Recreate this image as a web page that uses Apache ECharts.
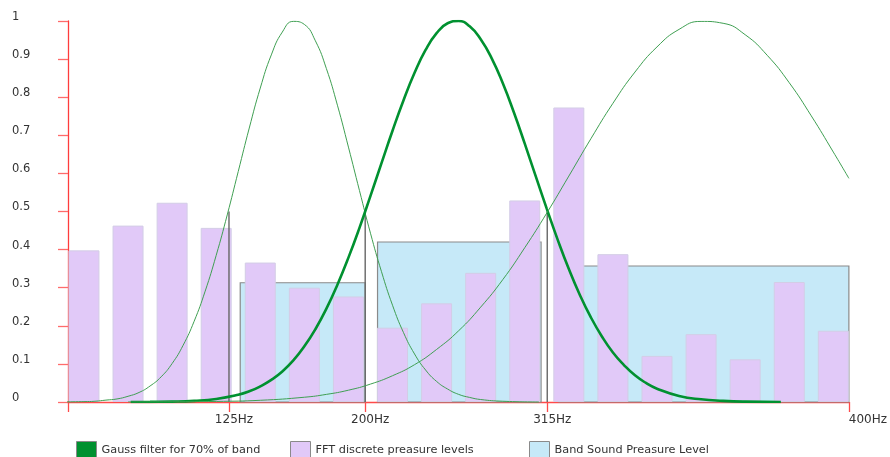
<!DOCTYPE html>
<html>
<head>
<meta charset="utf-8">
<title>Gauss band filter</title>
<script src="https://cdn.jsdelivr.net/npm/echarts@6/dist/echarts.min.js"></script>
<style>
    html, body { margin: 0; padding: 0; background: #fff; }
    #main { width: 890px; height: 457px; }
</style>
</head>
<body>
<div id="main"></div>
<script>
// x is counted in FFT bins (bar 0 .. bar 17)
const xMin = -0.362;
const xMax = 17.353;

// FFT discrete levels
const fftX = [0, 1, 2, 3, 4, 5, 6, 7, 8, 9, 10, 11, 12, 13, 14, 15, 16, 17];
const fftLevels = [0.398, 0.463, 0.523, 0.457, 0.366, 0.300, 0.277, 0.195, 0.259,
    0.339, 0.529, 0.773, 0.388, 0.121, 0.178, 0.112, 0.315, 0.187];

// x axis labels (band edges)
const tickPos = [3.29, 6.38, 10.51, 17.353];
const tickLabels = ['125Hz', '200Hz', '315Hz', '400Hz'];

// band sound pressure boxes
const bandStart = [3.545, 6.66, 10.77];
const bandEnd = [6.38, 10.37, 17.353];
const bandLevel = [0.313, 0.42, 0.357];

// vertical band border lines
const edgePos = [3.29, 6.38, 10.51];
const edgeTop = [0.5, 0.5, 0.5];

// gauss filters
const gaussAX = [-0.68, 0, 0.25, 0.5, 0.75, 1, 1.25, 1.5, 1.75, 2, 2.25, 2.5, 2.75, 3, 3.25, 3.5, 3.75, 4, 4.25, 4.5, 4.75,
    5, 5.25, 5.5, 5.75, 6, 6.25, 6.5, 6.75, 7, 7.25, 7.5, 7.75, 8, 8.25, 8.5, 8.75, 9, 9.5, 10.32];
const gaussAY = [0, 0.001, 0.002, 0.005, 0.008, 0.015, 0.025, 0.042, 0.066, 0.101, 0.149, 0.212, 0.291, 0.385, 0.491, 0.605, 0.719, 0.824, 0.911, 0.971, 0.999,
    0.991, 0.948, 0.875, 0.779, 0.669, 0.555, 0.443, 0.342, 0.254, 0.182, 0.126, 0.084, 0.054, 0.034, 0.020, 0.012, 0.0065, 0.002, 0];
const gaussBX = [1.06, 1.5, 2, 2.5, 3, 3.5, 3.75, 4, 4.25, 4.5, 4.75, 5, 5.25, 5.5, 5.75, 6, 6.25, 6.5, 6.75, 7, 7.25, 7.5, 7.75, 8, 8.25, 8.5,
    8.75, 9, 9.25, 9.5, 9.75, 10, 10.25, 10.5, 10.75, 11, 11.25, 11.5, 11.75, 12, 12.25, 12.5, 12.75, 13, 13.5, 14, 14.5, 15, 15.81];
const gaussBY = [0, 0.0004, 0.001, 0.003, 0.008, 0.019, 0.028, 0.041, 0.058, 0.080, 0.109, 0.146, 0.191, 0.245, 0.308, 0.379, 0.457, 0.541, 0.627, 0.712, 0.792, 0.864, 0.924, 0.968, 0.994, 1,
    0.986, 0.952, 0.902, 0.837, 0.761, 0.678, 0.592, 0.507, 0.425, 0.349, 0.281, 0.222, 0.172, 0.130, 0.097, 0.070, 0.050, 0.035, 0.016, 0.007, 0.003, 0.001, 0];
const gaussCX = [1, 2, 3, 4, 5, 5.5, 6, 6.5, 7, 7.5, 8, 8.5, 9, 9.5, 10, 10.5, 11, 11.5, 12, 12.5, 13, 13.5, 14, 14.5,
    15, 15.5, 16, 16.5, 17, 17.353];
const gaussCY = [0, 0.0004, 0.0015, 0.0045, 0.0125, 0.020, 0.031, 0.047, 0.069, 0.098, 0.138, 0.187, 0.249, 0.321, 0.405, 0.496, 0.593, 0.691, 0.784, 0.866, 0.932, 0.978, 0.999, 0.994,
    0.964, 0.910, 0.838, 0.751, 0.656, 0.587];

const gaussName = 'Gauss filter for 70% of band';
const fftName = 'FFT discrete preasure levels';
const bandName = 'Band Sound Preasure Level';

const pairs = (xs, ys) => xs.map((x, i) => [x, ys[i]]);

const legendBase = (name, left) => ({
    data: [name],
    left: left,
    top: 441,
    padding: 0,
    icon: 'rect',
    itemWidth: 20,
    itemHeight: 17,
    itemGap: 0,
    selectedMode: false,
    itemStyle: { borderColor: '#8a8a8a', borderWidth: 1 },
    textStyle: { fontSize: 11.3, color: '#333', fontFamily: 'DejaVu Sans' }
});

const gaussLine = (data, width, color, clip) => ({
    name: gaussName,
    type: 'line',
    data: data,
    smooth: true,
    symbol: 'none',
    clip: clip,
    z: 5,
    itemStyle: { color: '#009130' },
    lineStyle: { width: width, color: color }
});

const getOption = () => {
    return {
        animation: false,
        textStyle: { fontFamily: 'DejaVu Sans' },
        legend: [
            legendBase(gaussName, 76),
            legendBase(fftName, 290),
            legendBase(bandName, 529)
        ],
        grid: { left: 68, right: 39, top: 21, bottom: 55 },
        xAxis: {
            type: 'value',
            min: xMin,
            max: xMax,
            splitLine: { show: false },
            axisLine: { onZero: false, lineStyle: { color: '#ff4a4a', width: 1.3 } },
            axisTick: {
                customValues: [xMin].concat(tickPos),
                length: 10,
                lineStyle: { color: '#ff4a4a', width: 1.3 }
            },
            axisLabel: {
                customValues: tickPos,
                fontSize: 12,
                color: '#333',
                margin: 12,
                padding: [0, 0, 0, 10],
                formatter: (v) => {
                    const i = tickPos.indexOf(v);
                    if (i === tickPos.length - 1) return '{end|' + tickLabels[i] + '}';
                    return i >= 0 ? tickLabels[i] : '';
                },
                rich: { end: { padding: [0, 0, 0, 28], fontSize: 12, color: '#333' } }
            }
        },
        yAxis: {
            type: 'value',
            min: 0,
            max: 1,
            interval: 0.1,
            splitLine: { show: false },
            axisLine: { show: true, onZero: false, lineStyle: { color: '#ff3c3c', width: 1.3 } },
            axisTick: { show: true, length: 10, lineStyle: { color: '#ff6b6b', width: 1.3 } },
            axisLabel: {
                align: 'left',
                verticalAlign: 'bottom',
                lineHeight: 8,
                margin: 56,
                fontSize: 11.5,
                color: '#333'
            }
        },
        series: [
            // band boxes
            {
                name: bandName,
                type: 'custom',
                z: 1,
                itemStyle: { color: '#c6e9f8', borderColor: '#8a8a8a' },
                encode: { x: [0, 1], y: 2 },
                data: bandStart.map((s, i) => [s, bandEnd[i], bandLevel[i]]),
                renderItem: (params, api) => {
                    const p0 = api.coord([api.value(0), api.value(2)]);
                    const p1 = api.coord([api.value(1), 0]);
                    return {
                        type: 'rect',
                        shape: { x: p0[0], y: p0[1], width: p1[0] - p0[0], height: p1[1] - p0[1] },
                        style: { fill: '#c6e9f8', stroke: '#8a8a8a', lineWidth: 1.2 }
                    };
                }
            },
            // FFT bars
            {
                name: fftName,
                type: 'bar',
                z: 2,
                barWidth: 31,
                data: pairs(fftX, fftLevels),
                itemStyle: { color: '#e1c9f8', borderColor: '#d3cde6', borderWidth: 1 }
            },
            // band edges
            {
                name: 'edges',
                type: 'custom',
                z: 3,
                data: pairs(edgePos, edgeTop),
                renderItem: (params, api) => {
                    const a = api.coord([api.value(0), 0]);
                    const b = api.coord([api.value(0), api.value(1)]);
                    return {
                        type: 'line',
                        shape: { x1: a[0], y1: a[1], x2: b[0], y2: b[1] },
                        style: { stroke: '#666', lineWidth: 1.4 }
                    };
                }
            },
            gaussLine(pairs(gaussAX, gaussAY), 1, '#3f9f52', false),
            gaussLine(pairs(gaussBX, gaussBY), 2.6, '#009130', true),
            gaussLine(pairs(gaussCX, gaussCY), 1, '#3f9f52', true)
        ]
    };
};

const chartDom = document.getElementById('main');
const myChart = echarts.init(chartDom);
myChart.setOption(getOption());
</script>
</body>
</html>
